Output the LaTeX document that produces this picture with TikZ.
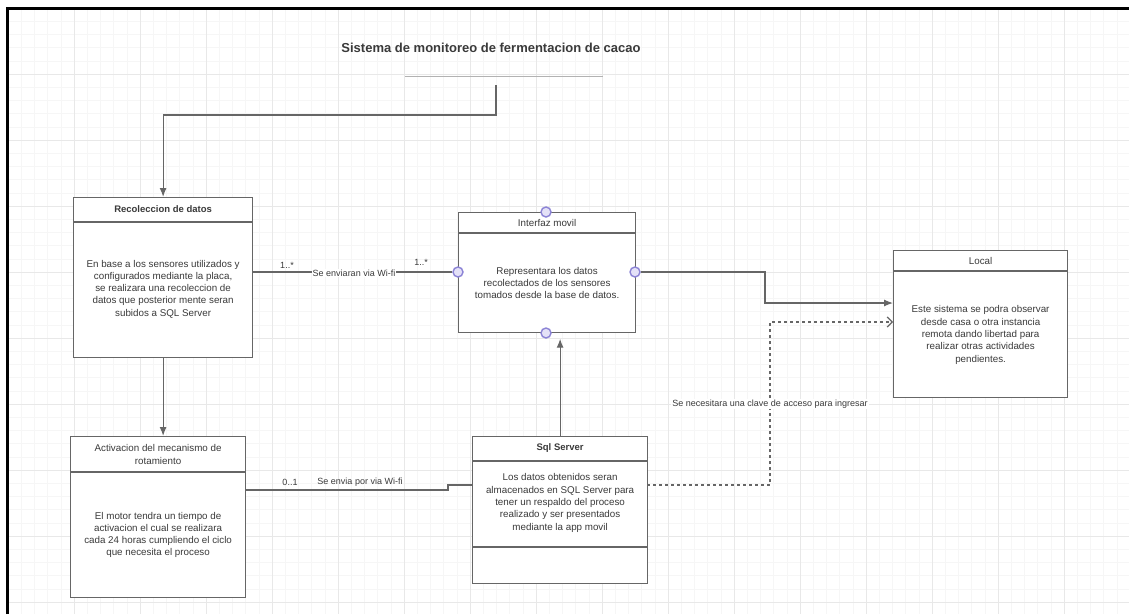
\documentclass[tikz,border=0pt]{standalone}
\usepackage{fontspec}
\setmainfont{Liberation Sans}
\usetikzlibrary{arrows.meta,calc}
\definecolor{ln}{HTML}{666666}
\definecolor{txt}{HTML}{3A3A3A}
\definecolor{pport}{HTML}{8C84D6}
\definecolor{pfill}{HTML}{E4E1F7}
\begin{document}
\begin{tikzpicture}[x=1pt,y=-1pt,
  box/.style={draw=ln, line width=1.2pt, fill=white, inner sep=0pt, anchor=north west},
  body/.style={text=txt, align=center, font=\fontsize{9.8}{12.3}\selectfont, inner sep=0pt},
  head/.style={text=txt, align=center, font=\fontsize{9.8}{13}\selectfont, inner sep=0pt},
  headb/.style={head, font=\bfseries\fontsize{9.5}{12}\selectfont},
  port/.style={circle, draw=pport, fill=pfill, line width=1.4pt, minimum size=10pt, inner sep=0pt},
  conn/.style={draw=ln, line width=1.2pt},
  arr/.style={conn, -{Latex[length=9pt,width=7pt]}},
  dconn/.style={conn, dashed, -{Straight Barb[length=5pt,width=10pt]}},
  lbl/.style={text=txt, font=\fontsize{9}{11}\selectfont, inner sep=1pt},
  gmin/.style={draw=gray!7, line width=0.5pt},
  gmaj/.style={draw=gray!18, line width=0.6pt}
]
\useasboundingbox (0,0) rectangle (1129,614);
\fill[white] (0,0) rectangle (1129,614);
% grid
\foreach \i in {0,...,85} {\draw[gmin] ({8+\i*13.2},8) -- ({8+\i*13.2},614);}
\foreach \i in {0,...,46} {\draw[gmin] (8,{8+\i*13.2}) -- (1129,{8+\i*13.2});}
\foreach \i in {0,...,17} {\draw[gmaj] ({8+\i*66},8) -- ({8+\i*66},614);}
\foreach \i in {0,...,9} {\draw[gmaj] (8,{8+\i*66}) -- (1129,{8+\i*66});}
% frame
\draw[black, line width=3pt] (7.5,614) -- (7.5,8) -- (1129,8);

% title
\node[text=txt, font=\bfseries\fontsize{13}{15}\selectfont] (title) at (491,48) {Sistema de monitoreo de fermentacion de cacao};
\coordinate (tl) at (405,76);
\coordinate (tr) at (603,76);
\draw[draw=gray!60, line width=1pt] (tl) -- (tr);
\coordinate (tstart) at (496,85);
\coordinate (tbend) at (496,115);

% boxes
\node[box, minimum width=179, minimum height=160] (rec) at (73,197) {};
\draw[conn] ($(rec.north west)+(0,25)$) -- ($(rec.north east)+(0,25)$);
\node[headb] (rech) at ($(rec.north)+(0,12.5)$) {Recoleccion de datos};
\node[body] (recb) at ($(rec.north)+(0,92)$) {En base a los sensores utilizados y\\configurados mediante la placa,\\se realizara una recoleccion de\\datos que posterior mente seran\\subidos a SQL Server};

\node[box, minimum width=177, minimum height=120] (int) at (458,212) {};
\draw[conn] ($(int.north west)+(0,21)$) -- ($(int.north east)+(0,21)$);
\node[head] (inth) at ($(int.north)+(0,11)$) {Interfaz movil};
\node[body] (intb) at ($(int.north)+(0,71)$) {Representara los datos\\recolectados de los sensores\\tomados desde la base de datos.};

\node[box, minimum width=174, minimum height=147] (loc) at (893,250) {};
\draw[conn] ($(loc.north west)+(0,21)$) -- ($(loc.north east)+(0,21)$);
\node[head] (loch) at ($(loc.north)+(0,10.5)$) {Local};
\node[body] (locb) at ($(loc.north)+(0,85)$) {Este sistema se podra observar\\desde casa o otra instancia\\remota dando libertad para\\realizar otras actividades\\pendientes.};

\node[box, minimum width=175, minimum height=161] (act) at (70,436) {};
\draw[conn] ($(act.north west)+(0,36)$) -- ($(act.north east)+(0,36)$);
\node[head] (acth) at ($(act.north)+(0,18)$) {Activacion del mecanismo de\\rotamiento};
\node[body] (actb) at ($(act.north)+(0,99)$) {El motor tendra un tiempo de\\activacion el cual se realizara\\cada 24 horas cumpliendo el ciclo\\que necesita el proceso};

\node[box, minimum width=175, minimum height=147] (sql) at (472,436) {};
\draw[conn] ($(sql.north west)+(0,25)$) -- ($(sql.north east)+(0,25)$);
\draw[conn] ($(sql.north west)+(0,111)$) -- ($(sql.north east)+(0,111)$);
\node[headb] (sqlh) at ($(sql.north)+(0,12.5)$) {Sql Server};
\node[body] (sqlb) at ($(sql.north)+(0,67)$) {Los datos obtenidos seran\\almacenados en SQL Server para\\tener un respaldo del proceso\\realizado y ser presentados\\mediante la app movil};

% ports
\node[port] (intT) at (546,212) {};
\node[port] (intL) at (458,272) {};
\node[port] (intR) at (635,272) {};
\node[port] (intB) at (546,333) {};

% connectors
\draw[arr] (tstart) -- (tbend) -| (rec.north);
\draw[arr] (rec.south) -- (rec.south |- act.north);
\draw[conn] (rec.east |- intL) -- (intL);
\node[lbl, fill=white] (l1) at (354,273) {Se enviaran via Wi-fi};
\node[lbl] (l2) at (287,265) {1..*};
\node[lbl] (l3) at (421,262) {1..*};

\coordinate (ilb) at (765,303);
\draw[arr] (intR) -| (ilb) -- (ilb -| loc.west);

\draw[arr] (sql.north) -- (sql.north |- intB.south);

\coordinate (aR) at (245,490);
\coordinate (j1) at (448,490);
\coordinate (j2) at (448,485);
\draw[conn] (aR) -- (j1) -- (j2) -- (j2 -| sql.west);
\node[lbl] (l4) at (290,482) {0..1};
\node[lbl] (l5) at (360,482) {Se envia por via Wi-fi};

\coordinate (sqlR) at (647,485);
\coordinate (sd) at (770,322);
\draw[dconn] (sqlR) -| (sd) -- (sd -| loc.west);
\node[lbl, fill=white] (l6) at (770,404) {Se necesitara una clave de acceso para ingresar};
\end{tikzpicture}
\end{document}
